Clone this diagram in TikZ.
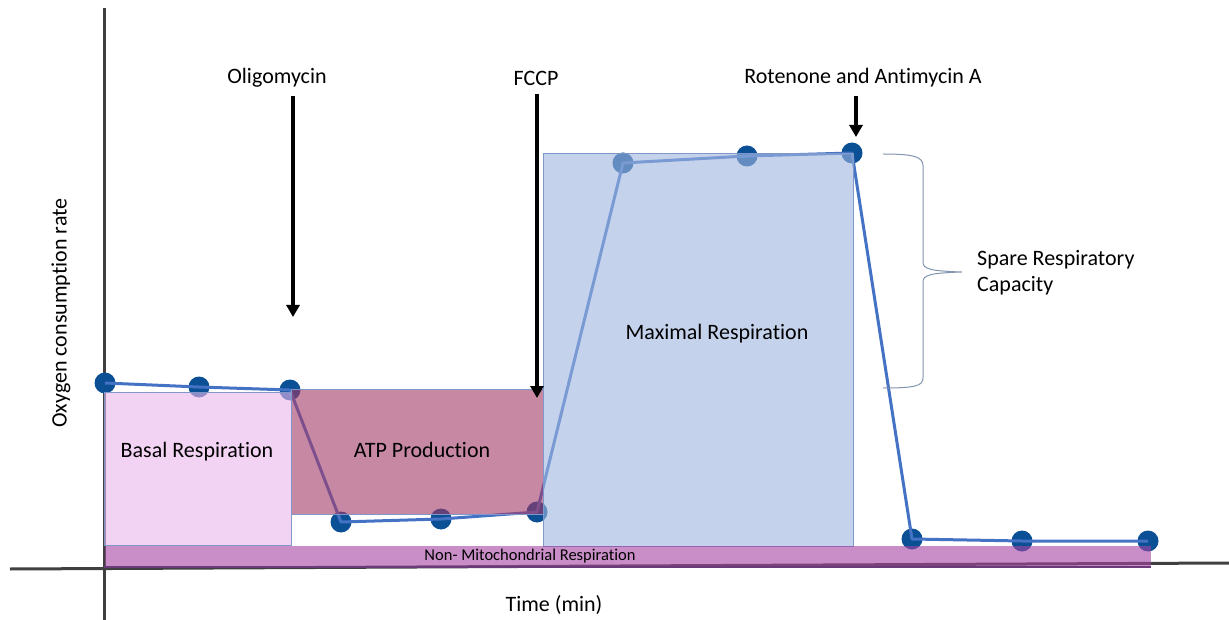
\documentclass[tikz,border=0pt]{standalone}
\usepackage{fontspec}
\setmainfont[RawFeature={-liga;-clig;-dlig;-calt}]{Carlito}
\usetikzlibrary{arrows.meta}
\definecolor{axisgray}{HTML}{404040}
\definecolor{linblue}{HTML}{4472C4}
\definecolor{dotblue}{HTML}{0B4F94}
\definecolor{basalfill}{HTML}{ECB7EC}
\definecolor{atpfill}{HTML}{A33967}
\definecolor{maxfill}{HTML}{9EB5DF}
\definecolor{nonfill}{HTML}{A544A3}
\definecolor{rectedge}{HTML}{7F97C9}
\definecolor{bracegray}{HTML}{8495B0}
\definecolor{nonedge}{HTML}{6B3A7B}
\begin{document}
\begin{tikzpicture}[x=1pt,y=-1pt,
  lbl/.style={font=\fontsize{22}{26}\selectfont, inner sep=0pt},
  dot/.style={circle, fill=dotblue, inner sep=0pt, minimum size=21pt},
  trace/.style={draw=linblue, line width=3pt, line join=round},
  region/.style={draw=rectedge, line width=1pt, fill opacity=0.6, inner sep=0pt, anchor=north west, font=\fontsize{22}{26}\selectfont},
  drug/.style={line width=4pt, -{Triangle[width=13pt,length=12pt]}},
  axisline/.style={draw=axisgray, line width=3pt}]
\useasboundingbox (0,0) rectangle (1229,620);
\fill[white] (0,0) rectangle (1229,620);
% axes
\coordinate (ytop) at (104,8);
\coordinate (ybot) at (104,620);
\coordinate (xl) at (10,569);
\coordinate (xr) at (1229,563);
\draw[axisline] (ytop) -- (ybot);
\draw[axisline] (xl) -- (xr);
% data points
\node[dot] (p1) at (105,383) {};
\node[dot] (p2) at (199,387) {};
\node[dot] (p3) at (290,390) {};
\node[dot] (p4) at (341,522) {};
\node[dot] (p5) at (441,519) {};
\node[dot] (p6) at (537,512) {};
\node[dot] (p7) at (623,163) {};
\node[dot] (p8) at (747,156) {};
\node[dot] (p9) at (852,153) {};
\node[dot] (p10) at (912,539) {};
\node[dot] (p11) at (1022,541) {};
\node[dot] (p12) at (1148,541) {};
\draw[trace] (p1.center) -- (p2.center) -- (p3.center) -- (p4.center) -- (p5.center) -- (p6.center) -- (p7.center) -- (p8.center) -- (p9.center) -- (p10.center) -- (p11.center) -- (p12.center);
% regions
\node[region, fill=basalfill, minimum width=187pt, minimum height=153pt] (basal) at (104,392) {};
\node[lbl] (basallbl) at (197,452) {Basal Respiration};
\node[region, fill=atpfill, minimum width=252pt, minimum height=125pt] (atp) at (291,389) {};
\node[lbl] (atplbl) at (422,450) {ATP Production};
\node[region, fill=maxfill, minimum width=310pt, minimum height=393pt] (maxr) at (543,153) {};
\node[lbl] (maxlbl) at (717,334) {Maximal Respiration};
\node[region, draw=none, fill=nonfill, minimum width=1046pt, minimum height=21pt] (non) at (104,545) {};
\draw[nonedge, line width=2pt] (non.south west) -- (non.south east);
\node[font=\fontsize{16.5}{19}\selectfont, inner sep=0pt] (nonlbl) at (530,556) {Non- Mitochondrial Respiration};
% drug injections
\node[lbl] (oligo) at (277,78) {Oligomycin};
\node[lbl] (fccp) at (536,78) {FCCP};
\node[lbl] (rot) at (863,78) {Rotenone and Antimycin A};
\coordinate (oligoend) at (293,317);
\coordinate (fccpend) at (537,398);
\coordinate (rotend) at (856,137);
\draw[drug] (293,96) -- (oligoend);
\draw[drug] (537,94) -- (fccpend);
\draw[drug] (856,96) -- (rotend);
% brace
\draw[bracegray, line width=1pt] (883,154) .. controls (915,154) and (923,157) .. (923,166) -- (923,262) .. controls (923,269) and (930,271) .. (962,272) .. controls (930,273) and (923,275) .. (923,282) -- (923,378) .. controls (923,386) and (915,388) .. (883,388);
\node[lbl, anchor=west, align=left] (spare) at (977,273) {Spare Respiratory\\Capacity};
% axis labels
\node[lbl] (xlab) at (554,605) {Time (min)};
\node[lbl, rotate=90] (ylab) at (61,313) {Oxygen consumption rate};
\end{tikzpicture}
\end{document}
